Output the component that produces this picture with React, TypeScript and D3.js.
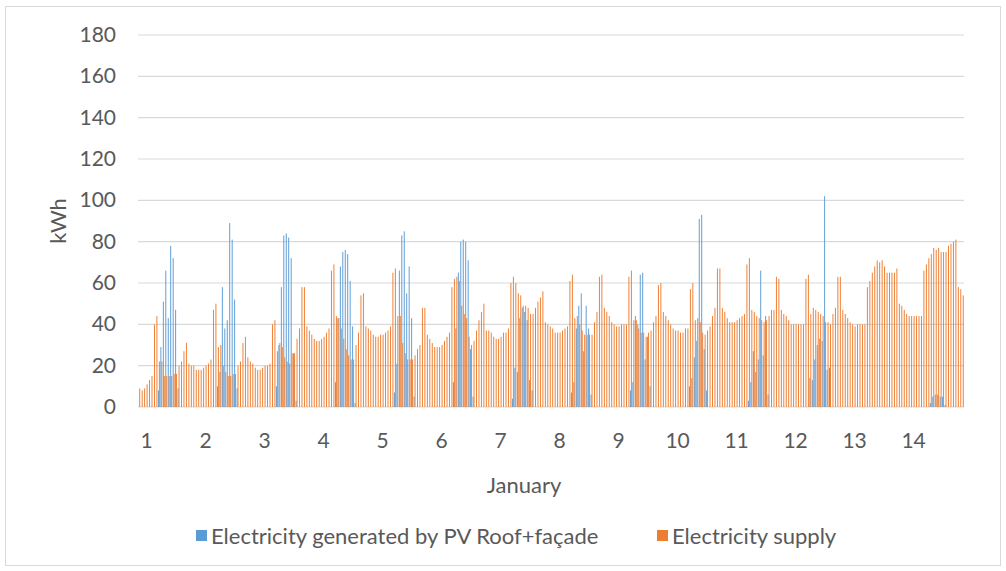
import * as d3 from "d3";

// hourly values, one row per day of January (hours 0..23), kWh
const supplyByDay: number[][] = [
  [9, 8, 9, 11, 13, 15, 40, 44, 22, 22, 15, 15, 15, 15, 16, 16, 20, 22, 27, 31, 21, 20, 20, 18],
  [18, 18, 19, 20, 21, 23, 47, 50, 29, 30, 20, 17, 15, 15, 16, 16, 20, 22, 31, 34, 24, 22, 21, 19],
  [18, 18, 19, 20, 20, 21, 40, 42, 27, 31, 29, 24, 22, 21, 26, 26, 33, 38, 58, 58, 39, 37, 35, 33],
  [32, 32, 33, 34, 36, 38, 66, 69, 44, 43, 38, 33, 28, 25, 23, 23, 30, 36, 54, 55, 39, 38, 37, 35],
  [34, 34, 35, 35, 36, 37, 39, 65, 67, 44, 44, 31, 26, 23, 23, 23, 25, 28, 30, 48, 48, 35, 33, 31],
  [29, 29, 29, 30, 32, 34, 36, 58, 62, 63, 61, 49, 45, 43, 34, 30, 32, 37, 42, 46, 50, 37, 37, 36],
  [34, 33, 33, 34, 36, 36, 38, 60, 63, 60, 55, 54, 49, 49, 48, 45, 45, 48, 51, 53, 56, 41, 40, 39],
  [38, 36, 36, 36, 37, 38, 39, 61, 64, 43, 44, 40, 37, 35, 35, 35, 35, 41, 46, 63, 64, 48, 46, 44],
  [41, 40, 39, 39, 40, 40, 40, 63, 66, 42, 42, 38, 36, 36, 34, 36, 37, 41, 44, 59, 60, 46, 44, 42],
  [40, 38, 37, 37, 36, 36, 38, 38, 57, 60, 42, 43, 41, 36, 35, 37, 39, 44, 48, 67, 67, 48, 46, 43],
  [41, 41, 41, 42, 43, 44, 45, 69, 72, 47, 46, 44, 43, 42, 41, 42, 44, 47, 47, 63, 62, 47, 45, 44],
  [42, 40, 40, 40, 40, 40, 40, 62, 64, 45, 48, 47, 46, 45, 44, 41, 41, 40, 45, 48, 63, 63, 47, 45],
  [43, 41, 40, 39, 40, 40, 40, 40, 58, 61, 65, 68, 71, 70, 71, 68, 65, 65, 65, 65, 67, 50, 49, 47],
  [45, 44, 44, 44, 44, 44, 44, 66, 69, 72, 74, 77, 76, 77, 75, 75, 75, 78, 79, 80, 81, 58, 57, 54],
];

const pvByDay: number[][] = [
  [0, 0, 0, 0, 0, 0, 0, 0, 8, 29, 51, 66, 43, 78, 72, 47, 9, 0, 0, 0, 0, 0, 0, 0],
  [0, 0, 0, 0, 0, 0, 0, 0, 10, 17, 58, 38, 42, 89, 81, 52, 9, 0, 0, 0, 0, 0, 0, 0],
  [0, 0, 0, 0, 0, 0, 0, 0, 10, 30, 58, 83, 84, 82, 72, 26, 3, 0, 0, 0, 0, 0, 0, 0],
  [0, 0, 0, 0, 0, 0, 0, 0, 12, 43, 68, 75, 76, 74, 61, 39, 2, 0, 0, 0, 0, 0, 0, 0],
  [0, 0, 0, 0, 0, 0, 0, 0, 7, 21, 66, 83, 85, 55, 68, 43, 5, 0, 0, 0, 0, 0, 0, 0],
  [0, 0, 0, 0, 0, 0, 0, 0, 12, 38, 65, 80, 81, 80, 71, 28, 5, 0, 0, 0, 0, 0, 0, 0],
  [0, 0, 0, 0, 0, 0, 0, 0, 4, 19, 17, 43, 48, 46, 42, 13, 8, 0, 0, 0, 0, 0, 0, 0],
  [0, 0, 0, 0, 0, 0, 0, 0, 7, 12, 38, 49, 55, 27, 49, 38, 6, 0, 0, 0, 0, 0, 0, 0],
  [0, 0, 0, 0, 0, 0, 0, 0, 8, 12, 44, 40, 64, 65, 23, 34, 10, 0, 0, 0, 0, 0, 0, 0],
  [0, 0, 0, 0, 0, 0, 0, 0, 10, 14, 24, 32, 91, 93, 28, 8, 0, 0, 0, 0, 0, 0, 0, 0],
  [0, 0, 0, 0, 0, 0, 0, 0, 3, 12, 27, 17, 23, 66, 25, 44, 6, 0, 0, 0, 0, 0, 0, 0],
  [0, 0, 0, 0, 0, 0, 0, 0, 0, 14, 13, 23, 30, 33, 32, 102, 18, 19, 0, 0, 0, 0, 0, 0],
  [0, 0, 0, 0, 0, 0, 0, 0, 0, 0, 0, 0, 0, 0, 0, 0, 0, 0, 0, 0, 0, 0, 0, 0],
  [0, 0, 0, 0, 0, 0, 0, 0, 0, 0, 2, 5, 6, 6, 5, 5, 1, 0, 0, 0, 0, 0, 0, 0],
];

const dayLabels = ["1", "2", "3", "4", "5", "6", "7", "8", "9", "10", "11", "12", "13", "14"];
const yTicks = [0, 20, 40, 60, 80, 100, 120, 140, 160, 180];
const seriesKeys = ["pv", "supply"];
const seriesNames = ["Electricity generated by PV Roof+façade", "Electricity supply"];
const seriesColors = ["#5B9BD5", "#ED7D31"];

const W = 1006;
const H = 571;
const PLOT = { left: 138, right: 964, top: 35, bottom: 407 };
const FONT = "Lato, 'Open Sans', sans-serif";
const TEXT = "#595959";
const GRID = "#D9D9D9";

export default function App() {
  const pv = pvByDay.flat();
  const supply = supplyByDay.flat();
  const hours = d3.range(supply.length);

  const x0 = d3
    .scaleBand<number>()
    .domain(hours)
    .range([PLOT.left, PLOT.right])
    .paddingInner(0.22)
    .paddingOuter(0.11);
  const x1 = d3.scaleBand<string>().domain(seriesKeys).range([0, x0.bandwidth()]);
  const y = d3.scaleLinear().domain([0, 180]).range([PLOT.bottom, PLOT.top]);

  const step = x0.step();
  // day label sits under the 4th hour of each day, as in the original
  const labelX = (d: number) => PLOT.left + (d * 24 + 3.5) * step;

  const series = [pv, supply];

  return (
    <svg
      width={W}
      height={H}
      style={{ position: "absolute", left: 0, top: 0, background: "#fff" }}
      fontFamily={FONT}
    >
      <rect x={5.5} y={6.5} width={995} height={559} fill="#fff" stroke={GRID} />

      {yTicks.map((t) => (
        <g key={t}>
          <line x1={PLOT.left} x2={PLOT.right} y1={y(t)} y2={y(t)} stroke={GRID} strokeWidth={1.2} />
          <text x={116} y={y(t) + 7} textAnchor="end" fontSize={21} fill={TEXT}>
            {t}
          </text>
        </g>
      ))}

      {series.map((vals, s) =>
        vals.map((v, i) =>
          v > 0 ? (
            <rect
              key={`${s}-${i}`}
              x={(x0(i) ?? 0) + (x1(seriesKeys[s]) ?? 0)}
              y={y(v)}
              width={x1.bandwidth()}
              height={y(0) - y(v)}
              fill={seriesColors[s]}
            />
          ) : null,
        ),
      )}

      {dayLabels.map((lab, d) => (
        <text key={lab} x={labelX(d)} y={448} textAnchor="middle" fontSize={21} fill={TEXT}>
          {lab}
        </text>
      ))}

      <text x={524} y={493} textAnchor="middle" fontSize={22} fill={TEXT}>
        January
      </text>
      <text
        transform={`translate(66,221) rotate(-90)`}
        textAnchor="middle"
        fontSize={22}
        fill={TEXT}
      >
        kWh
      </text>

      {seriesNames.map((name, s) => {
        const lx = s === 0 ? 196 : 657;
        return (
          <g key={name}>
            <rect x={lx} y={530} width={11} height={11} fill={seriesColors[s]} />
            <text x={lx + 15} y={544} fontSize={22} fill={TEXT}>
              {name}
            </text>
          </g>
        );
      })}
    </svg>
  );
}
